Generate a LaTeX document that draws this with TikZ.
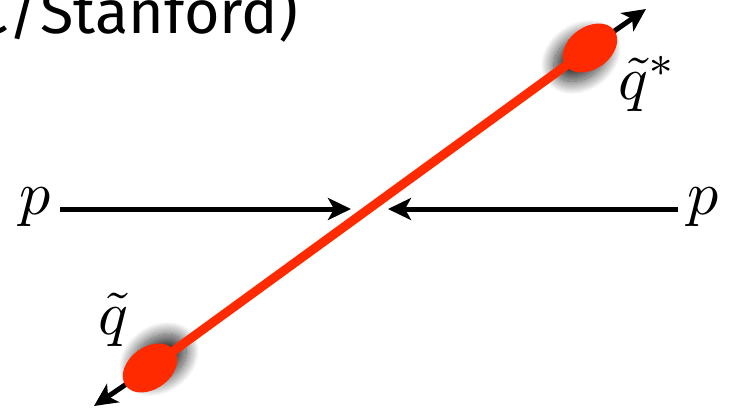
\documentclass[tikz,border=0pt]{standalone}
\usepackage{graphicx}
\usepackage{fontspec}
\newfontfamily\titlefont{Fira Sans}
\usetikzlibrary{arrows.meta,shapes.geometric,shadows.blur}
\definecolor{qred}{RGB}{255,42,0}
\newcommand{\hugemath}[1]{\scalebox{6.2}{$#1$}}
\begin{document}
\begin{tikzpicture}[x=1pt,y=-1pt,
  beam/.style={line width=5pt,-{Stealth[length=23pt,width=22pt,inset=6pt]}},
  blob/.style={ellipse,fill=qred,minimum width=60pt,minimum height=42pt,inner sep=0pt,rotate=36},
  shade/.style={blur shadow={shadow xshift=#1,shadow yshift=#1,shadow blur radius=13pt,shadow opacity=80,shadow blur steps=25}},
  lbl/.style={inner sep=0pt}]
\useasboundingbox (0,0) rectangle (730,409);
\clip (0,0) rectangle (730,409);
% title fragment
\node[anchor=base east,inner sep=0pt,font=\titlefont\fontsize{61}{66}\selectfont] (title) at (298,34) {C/Stanford)};
% labels
\node[lbl] (pl) at (35,207) {\hugemath{p}};
\node[lbl] (pr) at (703,207) {\hugemath{p}};
\node[lbl] (qs) at (648,84) {\hugemath{\tilde q^*}};
\node[lbl] (qb) at (113,320) {\hugemath{\tilde q}};
% coordinates
\coordinate (ls) at (60,209);
\coordinate (le) at (351,209);
\coordinate (rs) at (678,209);
\coordinate (re) at (388,209);
\coordinate (tt) at (646,9);
\coordinate (bt) at (94,406);
\coordinate (tc) at (590,48);
\coordinate (bc) at (150,368);
% horizontal arrows
\draw[beam] (ls) -- (le);
\draw[beam] (rs) -- (re);
% outgoing arrows
\draw[beam] (tc) -- (tt);
\draw[beam] (bc) -- (bt);
% blobs with shadows
\node[blob,shade=-9pt] (top) at (tc) {};
\node[blob,shade=9pt] (bot) at (bc) {};
% red line
\draw[qred,line width=9pt] (bot.center) -- (top.center);
\end{tikzpicture}
\end{document}
